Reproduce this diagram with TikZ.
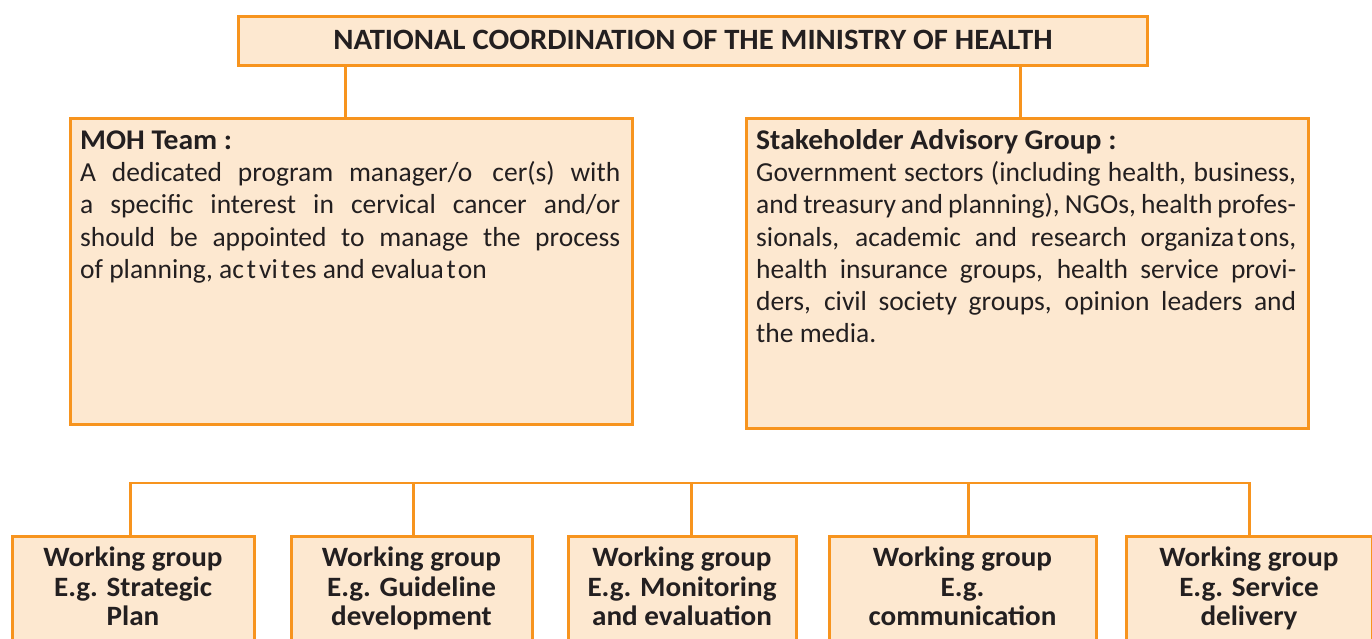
\documentclass[tikz,border=0pt]{standalone}
\usepackage{fontspec}
\setmainfont{Carlito}
\newfontfamily\headfont[FakeStretch=1.04]{Carlito}
\usetikzlibrary{calc}
\definecolor{boxfill}{HTML}{FDE8D0}
\definecolor{boxline}{HTML}{F7941E}
\definecolor{ink}{HTML}{231F20}
\newcommand{\boxhead}[1]{{\headfont\fontsize{28.5}{32.3}\selectfont\bfseries #1}}
\begin{document}
\begin{tikzpicture}[x=1pt,y=-1pt,
  box/.style={draw=boxline, fill=boxfill, line width=3pt, inner sep=0pt,
              anchor=north west, text=ink},
  conn/.style={draw=boxline, line width=2.6pt},
  bodytext/.style={anchor=north west, inner sep=0pt, text width=540pt,
              align=justify, text=ink, font=\fontsize{27.5}{32.3}\selectfont},
  wgtext/.style={anchor=north, inner sep=0pt, align=center, text=ink,
              font=\headfont\fontsize{28}{29.5}\selectfont\bfseries}]
\clip (0,0) rectangle (1372,639);
\fill[white] (0,0) rectangle (1372,639);

% top level
\node[box, minimum width=909pt, minimum height=49pt, text depth=3pt,
      font=\headfont\fontsize{29.5}{30}\selectfont\bfseries] (nat) at (237,15)
  {NATIONAL COORDINATION OF THE MINISTRY OF HEALTH};

% second level
\node[box, minimum width=562pt, minimum height=305pt] (moh) at (68.5,117.5) {};
\node[box, minimum width=562pt, minimum height=309pt] (sag) at (744.5,117.5) {};

\node[bodytext] (mohtxt) at (80,127) {\rule{0pt}{22pt}\boxhead{MOH Team :}\\
A dedicated program manager/o\kern20pt cer(s) with\linebreak
a specific interest in cervical cancer and/or\linebreak
should be appointed to manage the process\linebreak
of planning, ac\kern3pt t\kern3pt vi\kern3pt t\kern2pt es and evalua\kern3pt t\kern2pt on};

\node[bodytext] (sagtxt) at (756,127) {\rule{0pt}{22pt}\boxhead{Stakeholder Advisory Group :}\\
Government sectors (including health, business,\linebreak
and treasury and planning), NGOs, health profes-\linebreak
sionals, academic and research organiza\kern3pt t\kern3pt ons,\linebreak
health insurance groups, health service provi-\linebreak
ders, civil society groups, opinion leaders and\linebreak
the media.};

\draw[conn] ([xshift=-5.5pt]moh.north) -- ([xshift=-5.5pt]moh.north |- nat.south);
\draw[conn] ([xshift=-6.5pt]sag.north) -- ([xshift=-6.5pt]sag.north |- nat.south);

% working groups
\node[box, minimum width=242pt, minimum height=130pt] (wg1) at (10.5,534.5) {};
\node[box, minimum width=241pt, minimum height=130pt] (wg2) at (289.5,534.5) {};
\node[box, minimum width=228pt, minimum height=130pt] (wg3) at (566.5,534.5) {};
\node[box, minimum width=267pt, minimum height=130pt] (wg4) at (827.5,534.5) {};
\node[box, minimum width=246pt, minimum height=130pt] (wg5) at (1124.5,534.5) {};

\node[wgtext] (t1) at ([yshift=-10pt]wg1.north) {\rule{0pt}{22pt}Working group\\E.g. Strategic\\Plan};
\node[wgtext] (t2) at ([yshift=-10pt]wg2.north) {\rule{0pt}{22pt}Working group\\E.g. Guideline\\development};
\node[wgtext] (t3) at ([yshift=-10pt]wg3.north) {\rule{0pt}{22pt}Working group\\E.g. Monitoring\\and evaluation};
\node[wgtext] (t4) at ([yshift=-10pt]wg4.north) {\rule{0pt}{22pt}Working group\\E.g.\\communication};
\node[wgtext] (t5) at ([yshift=-10pt]wg5.north) {\rule{0pt}{22pt}Working group\\E.g. Service\\delivery};

% bus linking the working groups
\coordinate (bus) at (0,483);
\draw[conn] ([xshift=-2.5pt]wg1.north) -- ([xshift=-2.5pt]wg1.north |- bus)
  -- ([xshift=0.5pt]wg5.north |- bus) -- ([xshift=0.5pt]wg5.north);
\draw[conn] ([xshift=2pt]wg2.north) -- ([xshift=2pt]wg2.north |- bus);
\draw[conn] ([xshift=9.5pt]wg3.north) -- ([xshift=9.5pt]wg3.north |- bus);
\draw[conn] ([xshift=6pt]wg4.north) -- ([xshift=6pt]wg4.north |- bus);
\end{tikzpicture}
\end{document}
